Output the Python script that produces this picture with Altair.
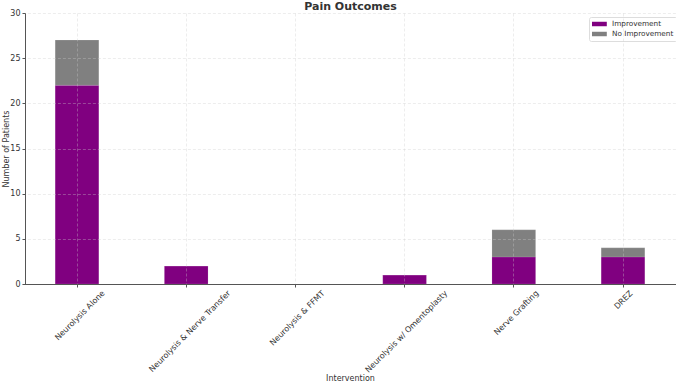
import altair as alt
import pandas as pd

interventions = [
    "Neurolysis Alone",
    "Neurolysis & Nerve Transfer",
    "Neurolysis & FFMT",
    "Neurolysis w/ Omentoplasty",
    "Nerve Grafting",
    "DREZ",
]
improvement = [22, 2, 0, 1, 3, 3]
no_improvement = [5, 0, 0, 0, 3, 1]
outcomes = ["Improvement", "No Improvement"]
colors = ["#800080", "#808080"]

rows = []
for i, name in enumerate(interventions):
    rows.append({"Intervention": name, "Outcome": outcomes[0], "Count": improvement[i], "ord": 0})
    rows.append({"Intervention": name, "Outcome": outcomes[1], "Count": no_improvement[i], "ord": 1})
df = pd.DataFrame(rows)

font = "DejaVu Sans"
grid_style = dict(grid=True, gridColor="#cccccc", gridOpacity=0.7, gridDash=[3, 2], gridWidth=0.5)

chart = (
    alt.Chart(df)
    .mark_bar(width=alt.RelativeBandSize(0.4), stroke="#ffffff", strokeOpacity=0.25, strokeWidth=0.5)
    .encode(
        x=alt.X(
            "Intervention:N",
            sort=interventions,
            title="Intervention",
            scale=alt.Scale(paddingInner=0, paddingOuter=0, range=[-2.6, 652.6]),
            axis=alt.Axis(
                labelAngle=-45,
                labelAlign="right",
                labelBaseline="top",
                # shift each rotated label so its box is centred under the tick
                labelOffset=alt.ExprRef("length(datum.label) * 1.5"),
                bandPosition=0.5,
                domainColor="#555555",
                tickColor="#555555",
                tickSize=3,
                labelFontSize=8,
                labelColor="#333333",
                titleFontSize=8,
                titleFontWeight="normal",
                titleColor="#333333",
                titleY=90.5,
                titleBaseline="top",
                zindex=1,
                **grid_style,
            ),
        ),
        y=alt.Y(
            "Count:Q",
            stack="zero",
            title="Number of Patients",
            scale=alt.Scale(domain=[0, 30], nice=False),
            axis=alt.Axis(
                values=[0, 5, 10, 15, 20, 25, 30],
                domainColor="#555555",
                tickColor="#555555",
                tickSize=3,
                labelFontSize=8,
                labelColor="#333333",
                titleFontSize=8,
                titleFontWeight="normal",
                titleColor="#333333",
                titlePadding=-1,
                zindex=1,
                **grid_style,
            ),
        ),
        color=alt.Color(
            "Outcome:N",
            sort=outcomes,
            scale=alt.Scale(domain=outcomes, range=colors),
            legend=alt.Legend(
                title=None,
                orient="none",
                legendX=564,
                legendY=4,
                symbolType="M-1.85,-0.56L1.85,-0.56L1.85,0.56L-1.85,0.56Z",
                symbolSize=64,
                symbolStrokeWidth=0,
                symbolOffset=3.4,
                labelOffset=8.6,
                labelFontSize=7.3,
                labelColor="#333333",
                rowPadding=2,
                padding=3,
                fillColor="#ffffff",
                strokeColor="#dddddd",
                cornerRadius=2,
            ),
        ),
        order=alt.Order("ord:Q"),
    )
    .properties(
        width=651,
        height=271,
        title=alt.TitleParams(
            "Pain Outcomes",
            fontSize=11,
            fontWeight="bold",
            font=font,
            color="#333333",
            offset=-2.5,
        ),
        autosize=alt.AutoSizeParams(type="none"),
        padding={"left": 25, "top": 13, "right": 0, "bottom": 99},
    )
    .configure(font=font)
    .configure_view(stroke=None)
)

chart.save("out.html", embed_options={"renderer": "svg", "actions": False})
